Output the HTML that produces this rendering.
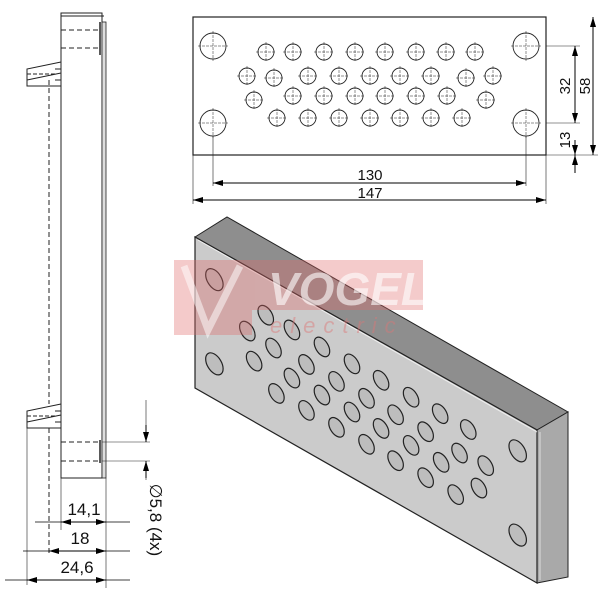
<!DOCTYPE html>
<html><head><meta charset="utf-8"><style>
html,body{margin:0;padding:0;background:#fff;}
svg{display:block;font-family:"Liberation Sans",sans-serif;}
</style></head><body>
<svg width="600" height="596" viewBox="0 0 600 596" xmlns="http://www.w3.org/2000/svg">
<defs>
<marker id="ar" viewBox="0 0 10 6" refX="10" refY="3" markerWidth="10" markerHeight="6" orient="auto-start-reverse" markerUnits="userSpaceOnUse"><path d="M0,0 L10,3 L0,6 z" fill="#000"/></marker>
<g id="sm"><circle r="8" fill="none" stroke="#222" stroke-width="0.9"/><path d="M-10,0H10M0,-10V10" stroke="#222" stroke-width="0.5" stroke-dasharray="3,1"/></g>
<g id="bg"><circle r="13" fill="none" stroke="#222" stroke-width="0.9"/><path d="M-15,0H15M0,-15V15" stroke="#222" stroke-width="0.5" stroke-dasharray="3,1"/></g>
</defs>

<!-- ===== Side view ===== -->
<g stroke="#222" fill="none" stroke-width="1">
<rect x="61" y="13" width="41" height="465"/>
<path d="M61,16H104" />
<rect x="102" y="22" width="4" height="456" fill="#ddd" stroke-width="0.8"/>
<path d="M100,22V55" stroke-width="1.5"/>
<path d="M100,440V463" stroke-width="1.5"/>
<path d="M61,30H100M61,48H100" stroke-dasharray="5,3"/>
<path d="M61,442H100M61,461H100" stroke-dasharray="5,3"/>
<path d="M61,62L27,69V86H61M27,80L61,73M55,69H61V80H55" />
<path d="M27,74H55" stroke-dasharray="4,2"/>
<path d="M61,404L27,411V428H61M27,422L61,415M55,411H61V422H55"/>
<path d="M27,416H55" stroke-dasharray="4,2"/>
<path d="M49,80V404M49,428V555" stroke-dasharray="5,3"/>
<path d="M27,428V585" stroke-width="0.6"/>
<path d="M61,478V530M106,478V588M102,442H150M102,461H150" stroke-width="0.6"/>
<path d="M146,400V442M146,461V480" stroke-width="0.6"/>
</g>
<path d="M146,425V442" stroke="#000" marker-end="url(#ar)"/>
<path d="M146,478V461" stroke="#000" marker-end="url(#ar)"/>
<line x1="35" y1="522" x2="130" y2="522" stroke="#000" stroke-width="0.7"/>
<line x1="61" y1="522" x2="106" y2="522" stroke="#000" marker-start="url(#ar)" marker-end="url(#ar)"/>
<line x1="23" y1="551" x2="130" y2="551" stroke="#000" stroke-width="0.7"/>
<line x1="49" y1="551" x2="106" y2="551" stroke="#000" marker-start="url(#ar)" marker-end="url(#ar)"/>
<line x1="5" y1="580" x2="130" y2="580" stroke="#000" stroke-width="0.7"/>
<line x1="27" y1="580" x2="106" y2="580" stroke="#000" marker-start="url(#ar)" marker-end="url(#ar)"/>
<g font-size="17" fill="#111" text-anchor="middle">
<text x="84" y="515">14,1</text>
<text x="80" y="544">18</text>
<text x="77" y="573">24,6</text>
<text transform="translate(150,520) rotate(90)">∅5,8 (4x)</text>
</g>

<!-- ===== Top view ===== -->
<rect x="193" y="17" width="353" height="138" fill="none" stroke="#222" stroke-width="1.2"/>
<g>
<use href="#bg" x="213" y="46"/><use href="#bg" x="213" y="123"/><use href="#bg" x="526" y="46"/><use href="#bg" x="526" y="123"/>
<use href="#sm" x="266" y="52"/><use href="#sm" x="293" y="52"/><use href="#sm" x="324" y="52"/><use href="#sm" x="355" y="52"/><use href="#sm" x="385" y="52"/><use href="#sm" x="416" y="52"/><use href="#sm" x="446" y="52"/><use href="#sm" x="475" y="52"/>
<use href="#sm" x="247" y="76"/><use href="#sm" x="274" y="78"/><use href="#sm" x="308" y="76"/><use href="#sm" x="339" y="76"/><use href="#sm" x="370" y="76"/><use href="#sm" x="400" y="76"/><use href="#sm" x="431" y="76"/><use href="#sm" x="466" y="78"/><use href="#sm" x="493" y="76"/>
<use href="#sm" x="254" y="100"/><use href="#sm" x="293" y="96"/><use href="#sm" x="324" y="96"/><use href="#sm" x="355" y="96"/><use href="#sm" x="385" y="96"/><use href="#sm" x="416" y="96"/><use href="#sm" x="447" y="96"/><use href="#sm" x="486" y="100"/>
<use href="#sm" x="277" y="118"/><use href="#sm" x="308" y="118"/><use href="#sm" x="339" y="118"/><use href="#sm" x="370" y="118"/><use href="#sm" x="400" y="118"/><use href="#sm" x="431" y="118"/><use href="#sm" x="462" y="118"/>
</g>
<g stroke="#222" stroke-width="0.6" fill="none">
<path d="M213,136V186M526,136V186M193,155V204M546,155V204"/>
<path d="M546,46H580M546,123H580M546,155H598"/>
</g>
<line x1="213" y1="183" x2="526" y2="183" stroke="#000" marker-start="url(#ar)" marker-end="url(#ar)"/>
<line x1="193" y1="200" x2="546" y2="200" stroke="#000" marker-start="url(#ar)" marker-end="url(#ar)"/>
<line x1="593" y1="17" x2="593" y2="155" stroke="#000" marker-start="url(#ar)" marker-end="url(#ar)"/>
<line x1="575" y1="46" x2="575" y2="123" stroke="#000" marker-start="url(#ar)" marker-end="url(#ar)"/>
<line x1="575" y1="140" x2="575" y2="173" stroke="#000" stroke-width="0.7"/>
<line x1="575" y1="140" x2="575" y2="155" stroke="#000" marker-end="url(#ar)"/>
<line x1="575" y1="173" x2="575" y2="155" stroke="#000" marker-end="url(#ar)"/>
<g font-size="15" fill="#111" text-anchor="middle">
<text x="370" y="180">130</text>
<text x="370" y="198">147</text>
<text transform="translate(570,86) rotate(-90)">32</text>
<text transform="translate(590,86) rotate(-90)">58</text>
<text transform="translate(570,140) rotate(-90)">13</text>
</g>

<!-- ===== Isometric ===== -->
<polygon points="195,237 227,217 568,412 537,430" fill="#8e8e8e" stroke="#222" stroke-width="1"/>
<polygon points="537,430 568,412 568,577 537,583" fill="#a9a9a9" stroke="#222" stroke-width="1"/>
<polygon points="195,237 537,430 537,583 195,388" fill="#cbcbcb" stroke="#222" stroke-width="1.2"/>
<path d="M198,240L537,432" stroke="#eee" stroke-width="1"/>
<path d="M540,432V580" stroke="#ddd" stroke-width="1"/>
<g transform="matrix(0.969,0.547,0,1.094,8,112.8)" fill="#bdbdbd" stroke="#222" stroke-width="1.2">
<circle cx="213" cy="46" r="9" vector-effect="non-scaling-stroke"/><circle cx="213" cy="123" r="9" vector-effect="non-scaling-stroke"/><circle cx="526" cy="46" r="9" vector-effect="non-scaling-stroke"/><circle cx="526" cy="123" r="9" vector-effect="non-scaling-stroke"/>
<circle cx="266" cy="52" r="8" vector-effect="non-scaling-stroke"/><circle cx="293" cy="52" r="8" vector-effect="non-scaling-stroke"/><circle cx="324" cy="52" r="8" vector-effect="non-scaling-stroke"/><circle cx="355" cy="52" r="8" vector-effect="non-scaling-stroke"/><circle cx="385" cy="52" r="8" vector-effect="non-scaling-stroke"/><circle cx="416" cy="52" r="8" vector-effect="non-scaling-stroke"/><circle cx="446" cy="52" r="8" vector-effect="non-scaling-stroke"/><circle cx="475" cy="52" r="8" vector-effect="non-scaling-stroke"/>
<circle cx="247" cy="76" r="8" vector-effect="non-scaling-stroke"/><circle cx="274" cy="78" r="8" vector-effect="non-scaling-stroke"/><circle cx="308" cy="76" r="8" vector-effect="non-scaling-stroke"/><circle cx="339" cy="76" r="8" vector-effect="non-scaling-stroke"/><circle cx="370" cy="76" r="8" vector-effect="non-scaling-stroke"/><circle cx="400" cy="76" r="8" vector-effect="non-scaling-stroke"/><circle cx="431" cy="76" r="8" vector-effect="non-scaling-stroke"/><circle cx="466" cy="78" r="8" vector-effect="non-scaling-stroke"/><circle cx="493" cy="76" r="8" vector-effect="non-scaling-stroke"/>
<circle cx="254" cy="100" r="8" vector-effect="non-scaling-stroke"/><circle cx="293" cy="96" r="8" vector-effect="non-scaling-stroke"/><circle cx="324" cy="96" r="8" vector-effect="non-scaling-stroke"/><circle cx="355" cy="96" r="8" vector-effect="non-scaling-stroke"/><circle cx="385" cy="96" r="8" vector-effect="non-scaling-stroke"/><circle cx="416" cy="96" r="8" vector-effect="non-scaling-stroke"/><circle cx="447" cy="96" r="8" vector-effect="non-scaling-stroke"/><circle cx="486" cy="100" r="8" vector-effect="non-scaling-stroke"/>
<circle cx="277" cy="118" r="8" vector-effect="non-scaling-stroke"/><circle cx="308" cy="118" r="8" vector-effect="non-scaling-stroke"/><circle cx="339" cy="118" r="8" vector-effect="non-scaling-stroke"/><circle cx="370" cy="118" r="8" vector-effect="non-scaling-stroke"/><circle cx="400" cy="118" r="8" vector-effect="non-scaling-stroke"/><circle cx="431" cy="118" r="8" vector-effect="non-scaling-stroke"/><circle cx="462" cy="118" r="8" vector-effect="non-scaling-stroke"/>
</g>

<!-- watermark -->
<g opacity="0.35">
<rect x="174" y="260" width="249" height="50" fill="#e06a6a"/>
<rect x="174" y="310" width="78" height="25" fill="#e06a6a"/>
</g>
<path d="M184,266L208,330L240,266" fill="none" stroke="#fff" stroke-width="7" opacity="0.5"/>
<text x="268" y="305" font-size="46" font-weight="bold" font-style="italic" fill="#fff" opacity="0.6">VOGEL</text>
<text x="270" y="333" font-size="22" font-style="italic" letter-spacing="8" fill="#d77" opacity="0.45">electric</text>
</svg>
</body></html>
